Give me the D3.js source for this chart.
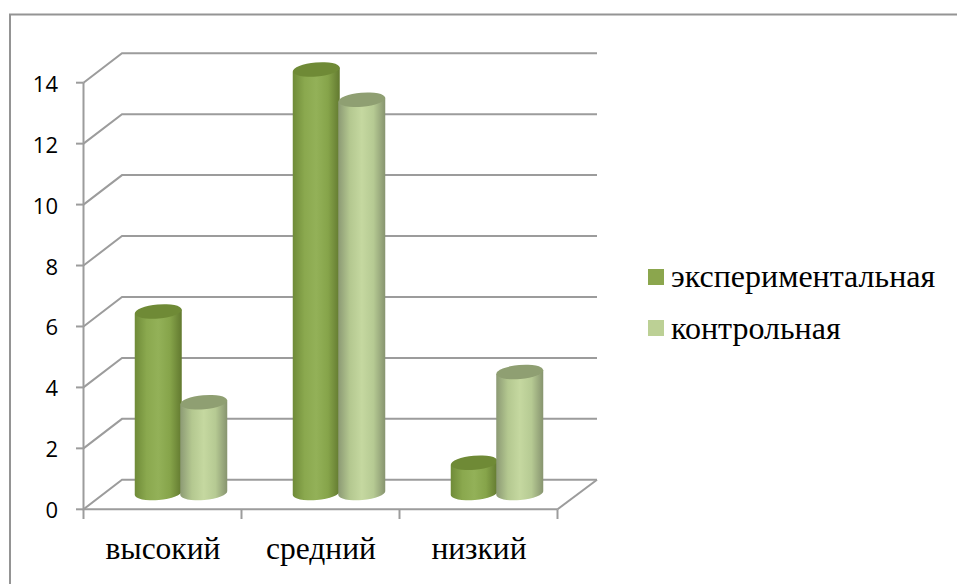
<!DOCTYPE html>
<html><head><meta charset="utf-8">
<script src="https://cdn.jsdelivr.net/npm/d3@7"></script>
<style>html,body{margin:0;padding:0;background:#fff}svg{display:block}</style>
</head><body><svg id="c" width="957" height="584"></svg>
<script>
const categories = ["высокий","средний","низкий"];
const seriesNames = ["экспериментальная","контрольная"];
const experimental = [6,14,1];
const control = [3,13,4];
const yTicks = [0,2,4,6,8,10,12,14];
const palette = [
 {legend:"#8ba64d",top:"#6f8a36",stops:["#6f8b38","#8aa84e","#93b158","#86a44a","#62792f"]},
 {legend:"#bcd095",top:"#8f9f72",stops:["#8c9a74","#b4c890","#c5d8a0","#b6ca93","#87946f"]}
];
const svg=d3.select("#c");
const defs=svg.append("defs");
palette.forEach((p,i)=>{
  const g=defs.append("linearGradient").attr("id","g"+i);
  p.stops.forEach((s,k)=>g.append("stop").attr("offset",(k/(p.stops.length-1)*100)+"%").attr("stop-color",s));
});
svg.append("path").attr("d",d3.line()([[10,584],[10,14.5],[957,14.5]]))
  .attr("fill","none").attr("stroke","#949494").attr("stroke-width",2);

const front=d3.scaleLinear().domain([0,14]).range([509.3,82.7]);
const axisX=83.5, depthX=38.5, depthY=-29.5, backRight=597;
const x=d3.scaleBand().domain(categories).range([axisX,557.5]);
const gridG=svg.append("g").attr("fill","none").attr("stroke","#9c9c9c").attr("stroke-width",2);
yTicks.forEach(t=>{
  const y=front(t);
  gridG.append("path").attr("d",d3.line()([[axisX,y],[axisX+depthX,y+depthY],[backRight,y+depthY]]));
});
gridG.append("path").attr("d",d3.line()([[557.5,front(0)],[backRight,front(0)+depthY]]));
gridG.append("path").attr("d",d3.line()([[axisX,front(14)],[axisX,front(0)],[557.5,front(0)]]));
yTicks.forEach(t=>gridG.append("line").attr("x1",76).attr("x2",axisX).attr("y1",front(t)).attr("y2",front(t)));
[...categories.map(c=>x(c)),557.5].forEach(v=>gridG.append("line").attr("x1",v).attr("x2",v).attr("y1",front(0)).attr("y2",519));

svg.append("g").selectAll("text").data(yTicks).join("text")
  .attr("x",58).attr("y",d=>front(d)+9).attr("text-anchor","end")
  .attr("font-family","'Open Sans'").attr("font-size",22).attr("fill","#000").text(d=>d);

svg.append("g").selectAll("text").data(categories).join("text")
  .attr("x",d=>x(d)+x.bandwidth()/2+0.5).attr("y",559).attr("text-anchor","middle")
  .attr("font-family","'Liberation Serif'").attr("font-size",31.5).attr("fill","#000").text(d=>d);

const mid=d3.scaleLinear().domain([0,14]).range([493,69.5]);
const bw=45.5, rx=23.5, ry=7, tilt=-5;
function bar(g,cx,v,i){
  const yt=mid(v), yb=mid(0);
  const dy=Math.sin(-tilt*Math.PI/180)*rx;
  g.append("path")
   .attr("d",`M${cx-rx},${yt+dy} L${cx-rx},${yb+dy} A${rx},${ry} ${tilt} 0 0 ${cx+rx},${yb-dy} L${cx+rx},${yt-dy} Z`)
   .attr("fill",`url(#g${i})`);
  g.append("ellipse").attr("cx",cx).attr("cy",yt).attr("rx",rx).attr("ry",ry)
   .attr("transform",`rotate(${tilt} ${cx} ${yt})`).attr("fill",palette[i].top);
}
const bars=svg.append("g");
categories.forEach((c,k)=>{
  const cx=x(c)+x.bandwidth()/2+18.5;
  bar(bars,cx-bw/2,experimental[k],0);
  bar(bars,cx+bw/2,control[k],1);
});

const legend=svg.append("g");
seriesNames.forEach((n,i)=>{
  const top=[269,320][i], base=[287,339][i];
  legend.append("rect").attr("x",648).attr("y",top).attr("width",16).attr("height",16).attr("fill",palette[i].legend);
  legend.append("text").attr("x",671).attr("y",base).attr("font-family","'Liberation Serif'").attr("font-size",32).attr("fill","#000").text(n);
});
</script></body></html>
